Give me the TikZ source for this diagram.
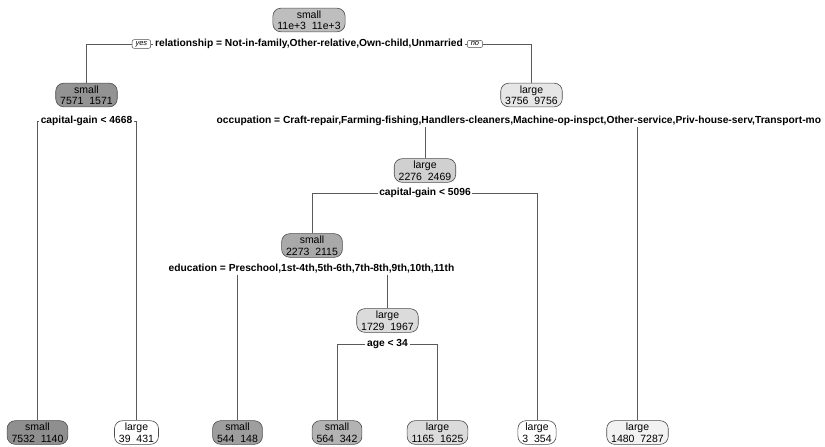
\documentclass[tikz,border=0pt]{standalone}
\usepackage{fontspec}
\setmainfont{Liberation Sans}
\usepackage{tikz}
\usetikzlibrary{positioning}
\definecolor{rpLine}{HTML}{5A5A5A}
\definecolor{rpBorder}{HTML}{4D4D4D}
\definecolor{rpG1}{HTML}{BEBEBE}
\definecolor{rpG2}{HTML}{939393}
\definecolor{rpG3}{HTML}{E6E6E6}
\definecolor{rpG4}{HTML}{8F8F8F}
\definecolor{rpG6}{HTML}{D0D0D0}
\definecolor{rpG7}{HTML}{F2F2F2}
\definecolor{rpG12}{HTML}{A9A9A9}
\definecolor{rpG24}{HTML}{9E9E9E}
\definecolor{rpG25}{HTML}{DBDBDB}
\definecolor{rpG50}{HTML}{B3B3B3}

\begin{document}
\begin{tikzpicture}[x=1pt, y=-1pt,
  treenode/.style={draw=rpBorder, line width=0.6pt, rounded corners=8pt, align=center, inner xsep=4.5pt, inner ysep=2.2pt, font=\fontsize{10.5}{11.5}\selectfont},
  splitlab/.style={inner xsep=1.5pt, inner ysep=1pt, font=\fontsize{10.25}{11}\selectfont\bfseries},
  yesno/.style={draw=rpBorder, line width=0.5pt, rounded corners=2pt, inner xsep=3.5pt, inner ysep=1.5pt, font=\fontsize{7.5}{8}\selectfont\itshape},
  edge/.style={draw=rpLine, line width=0.8pt}
]
  \useasboundingbox (0,0) rectangle (825,447);
  % inner nodes
  \node[treenode, fill=rpG1] (n1) at (309,20) {small\\11e+3\ \ 11e+3};
  \node[treenode, fill=rpG2] (n2) at (86.5,95) {small\\7571\ \ 1571};
  \node[treenode, fill=rpG3] (n3) at (531.5,95) {large\\3756\ \ 9756};
  \node[treenode, fill=rpG6] (n6) at (425,170.5) {large\\2276\ \ 2469};
  \node[treenode, fill=rpG12] (n12) at (312,245.5) {small\\2273\ \ 2115};
  \node[treenode, fill=rpG25] (n25) at (387.5,320.5) {large\\1729\ \ 1967};
  % leaves
  \node[treenode, fill=rpG4] (n4) at (37.5,432.5) {small\\7532\ \ 1140};
  \node[treenode, fill=white] (n5) at (136.5,432.5) {large\\39\ \ 431};
  \node[treenode, fill=rpG24] (n24) at (237.5,432.5) {small\\544\ \ 148};
  \node[treenode, fill=rpG50] (n50) at (337,432.5) {small\\564\ \ 342};
  \node[treenode, fill=rpG25] (n51) at (437.5,432.5) {large\\1165\ \ 1625};
  \node[treenode, fill=white] (n13) at (537,432.5) {large\\3\ \ 354};
  \node[treenode, fill=rpG7] (n7) at (637.5,432.5) {large\\1480\ \ 7287};
  % split labels
  \node[splitlab] (s1) at (309,44) {relationship = Not-in-family,Other-relative,Own-child,Unmarried};
  \node[yesno, left=2.5pt of s1] (yes) {yes};
  \node[yesno, right=2.5pt of s1] (no) {no};
  \node[splitlab] (s2) at (86.5,121) {capital-gain < 4668};
  \node[splitlab, anchor=west] (s3) at (215,121) {occupation = Craft-repair,Farming-fishing,Handlers-cleaners,Machine-op-inspct,Other-service,Priv-house-serv,Transport-mo};
  \node[splitlab] (s6) at (425,193) {capital-gain < 5096};
  \node[splitlab] (s12) at (311.5,269) {education = Preschool,1st-4th,5th-6th,7th-8th,9th,10th,11th};
  \node[splitlab] (s25) at (387.5,344) {age < 34};
  % connectors
  \draw[edge] (s1.west) -- (yes.east);
  \draw[edge] (yes.west) -| (n2.north);
  \draw[edge] (s1.east) -- (no.west);
  \draw[edge] (no.east) -| (n3.north);
  \draw[edge] (s2.west) -| (n4.north);
  \draw[edge] (s2.east) -| (n5.north);
  \draw[edge] (n6.north |- s3.south) -- (n6.north);
  \draw[edge] (n7.north |- s3.south) -- (n7.north);
  \draw[edge] (s6.west) -| (n12.north);
  \draw[edge] (s6.east) -| (n13.north);
  \draw[edge] (n24.north |- s12.south) -- (n24.north);
  \draw[edge] (n25.north |- s12.south) -- (n25.north);
  \draw[edge] (s25.west) -| (n50.north);
  \draw[edge] (s25.east) -| (n51.north);
\end{tikzpicture}
\end{document}
